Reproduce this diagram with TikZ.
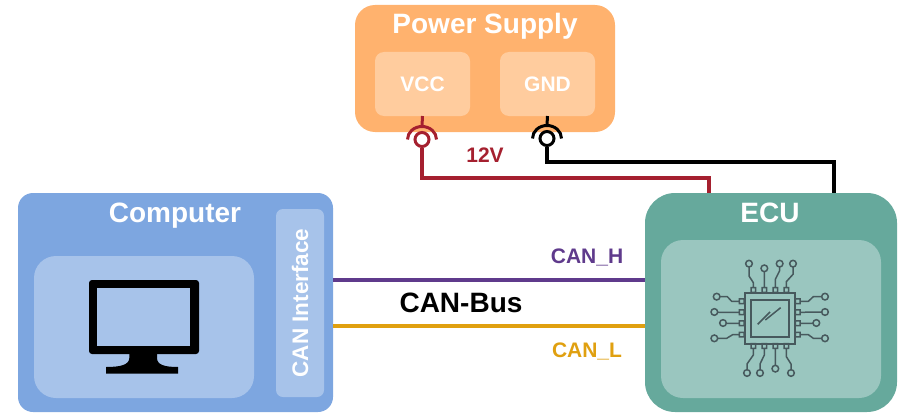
\documentclass[tikz,border=0pt]{standalone}
\usepackage{fontspec}
\setmainfont{Liberation Sans}
\usepackage{tikz}
\usetikzlibrary{calc}
\definecolor{supplyfill}{HTML}{FFB26E}
\definecolor{supplyinner}{HTML}{FFCC9E}
\definecolor{pcfill}{HTML}{7DA6E0}
\definecolor{pcinner}{HTML}{A7C3EA}
\definecolor{ecufill}{HTML}{66A99C}
\definecolor{ecuinner}{HTML}{9AC6BF}
\definecolor{wirered}{HTML}{A5202F}
\definecolor{canhcol}{HTML}{5F3A8C}
\definecolor{canlcol}{HTML}{E0A010}
\definecolor{chipcol}{HTML}{47595D}
\tikzset{
	panel/.style={inner sep=0pt,outer sep=0pt,text=white,font=\bfseries},
	title/.style={inner sep=0pt,anchor=base,text=white,font=\fontsize{28}{28}\selectfont\bfseries},
	tag/.style={inner sep=0pt,font=\fontsize{21}{21}\selectfont\bfseries},
	jack/.style={circle,draw,fill=white,line width=3pt,inner sep=0pt,minimum size=14pt},
	wire/.style={line width=3.15pt},
	chipline/.style={draw=chipcol,line width=1.5pt},
}
\def\jackarc[#1](#2) %Syntax: [draw options](center)
{ \draw[#1] ($(#2)+(-14.5,0)$) arc (180:360:14.5 and 13); }

\begin{document}
\begin{tikzpicture}[x=1pt,y=-1pt]
	\useasboundingbox (0,0) rectangle (901,412);

	%boxes
	\node[panel,fill=supplyfill,minimum width=260pt,minimum height=127pt,rounded corners=20pt] (supply) at (485,68.5) {};
	\node[panel,fill=supplyinner,minimum width=95pt,minimum height=64pt,rounded corners=9pt,font=\fontsize{21}{21}\selectfont\bfseries] (vcc) at (422.5,84) {VCC};
	\node[panel,fill=supplyinner,minimum width=95pt,minimum height=64pt,rounded corners=9pt,font=\fontsize{21}{21}\selectfont\bfseries] (gnd) at (547.5,84) {GND};
	\node[title] (supplytitle) at (485,33.5) {Power Supply};
	%
	\node[panel,fill=pcfill,minimum width=315pt,minimum height=219pt,rounded corners=15pt] (computer) at (175.5,302.5) {};
	\node[panel,fill=pcinner,minimum width=220pt,minimum height=142pt,rounded corners=22pt] (screen) at (144,327) {};
	\node[panel,fill=pcinner,minimum width=188pt,minimum height=48pt,rounded corners=7pt,rotate=90,font=\fontsize{22.5}{22.5}\selectfont\bfseries] (caninterface) at (300,303) {CAN Interface};
	\node[title] (computertitle) at (175,222.5) {Computer};
	%
	\node[panel,fill=ecufill,minimum width=252pt,minimum height=219pt,rounded corners=30pt] (ecu) at (771,302.5) {};
	\node[panel,fill=ecuinner,minimum width=220pt,minimum height=158pt,rounded corners=22pt] (chipbay) at (771,319) {};
	\node[title] (ecutitle) at (770,222.5) {ECU};

	%sockets on the supply
	\node[jack,draw=wirered] (vccjack) at (422,139.5) {};
	\node[jack,draw=black] (gndjack) at (547,138.5) {};
	\coordinate (vcctop) at (422,126);
	\coordinate (gndtop) at (547,125);
	\coordinate (ecured) at (709,193);
	\coordinate (redbend) at (709,178);
	\coordinate (ecublack) at (834,193);
	\coordinate (blackbend) at (834,162);
	\jackarc[line width=3pt,wirered](vccjack)
	\jackarc[line width=3pt,black](gndjack)
	\draw[wire,wirered,line width=3pt] (vcc.south) -- (vcctop);
	\draw[wire,black,line width=3pt] (gnd.south) -- (gndtop);
	\draw[wire,wirered] (vccjack.south) |- (redbend) -- (ecured);
	\draw[wire,black] (gndjack.south) |- (blackbend) -- (ecublack);
	\node[tag,text=wirered] (volt) at (485,155) {12V};

	%bus lines
	\coordinate (canhleft) at (333,280);
	\coordinate (canhright) at (645,280);
	\coordinate (canlleft) at (333,326);
	\coordinate (canlright) at (645,326);
	\draw[wire,canhcol] (canhleft) -- (canhright);
	\draw[wire,canlcol] (canlleft) -- (canlright);
	\node[tag,text=canhcol] (canh) at (587,257) {CAN\_H};
	\node[tag,text=canlcol] (canl) at (587,351) {CAN\_L};
	\node[inner sep=0pt,font=\fontsize{28}{28}\selectfont\bfseries] (canbus) at (461,303) {CAN-Bus};

	%monitor
	\fill[black,rounded corners=3pt] (89,280) rectangle (199,354);
	\fill[pcinner] (97.3,287.7) rectangle (190.3,346.3);
	\fill[black] (129.3,353) -- (129.3,358) .. controls (129.3,365) and (120,367) .. (106,367) -- (106,373.5) -- (178,373.5) -- (178,367) .. controls (165,367) and (157,365) .. (157,358) -- (157,353) -- cycle;

	%chip
	\begin{scope}[shift={(690,240)},x=0.3333pt,y=-0.3333pt]
		\draw[chipline,line width=2pt] (164,159) rectangle (316,311);
		\draw[chipline,line width=2pt] (184,179) rectangle (298,291);
		\draw[chipline,line width=1.5pt] (203,253)--(240,216);
		\draw[chipline,line width=1.5pt] (226,240)--(272,203);
		%top leads
		\draw[chipline] (190,143)--(190,128)--(177,108)--(177,81) (177,71) circle (10) (183,143) rectangle (197,157);
		\draw[chipline] (223,143)--(223,96) (223,85) circle (10) (216,143) rectangle (230,157);
		\draw[chipline] (256,143)--(256,118)--(269,92)--(269,81) (269,71) circle (10) (249,143) rectangle (263,157);
		\draw[chipline] (289,143)--(289,125)--(309,103)--(309,82) (309,71) circle (10) (282,143) rectangle (296,157);
		%bottom leads
		\draw[chipline] (190,325)--(190,345)--(171,372)--(171,389) (171,399) circle (10) (183,311) rectangle (197,325);
		\draw[chipline] (223,325)--(223,345)--(210,372)--(210,389) (210,399) circle (10) (216,311) rectangle (230,325);
		\draw[chipline] (256,325)--(256,376) (256,386) circle (10) (249,311) rectangle (263,325);
		\draw[chipline] (289,325)--(289,350)--(303,372)--(303,389) (303,399) circle (10) (282,311) rectangle (296,325);
		%left leads
		\draw[chipline] (148,184)--(125,184)--(112,170)--(91,170) (80,170) circle (10) (148,177) rectangle (162,191);
		\draw[chipline] (148,217)--(84,217) (73,216) circle (10) (148,210) rectangle (162,224);
		\draw[chipline] (148,250)--(110,250) (99,249) circle (10) (148,243) rectangle (162,257);
		\draw[chipline] (148,284)--(128,284)--(110,295)--(84,295) (73,295) circle (10) (148,277) rectangle (162,291);
		%right leads
		\draw[chipline] (330,184)--(355,184)--(370,170)--(394,170) (405,170) circle (10) (316,177) rectangle (330,191);
		\draw[chipline] (330,217)--(394,216) (405,216) circle (10) (316,210) rectangle (330,224);
		\draw[chipline] (330,250)--(368,250) (379,249) circle (10) (316,243) rectangle (330,257);
		\draw[chipline] (330,284)--(355,284)--(370,295)--(394,295) (405,295) circle (10) (316,277) rectangle (330,291);
	\end{scope}
\end{tikzpicture}
\end{document}
